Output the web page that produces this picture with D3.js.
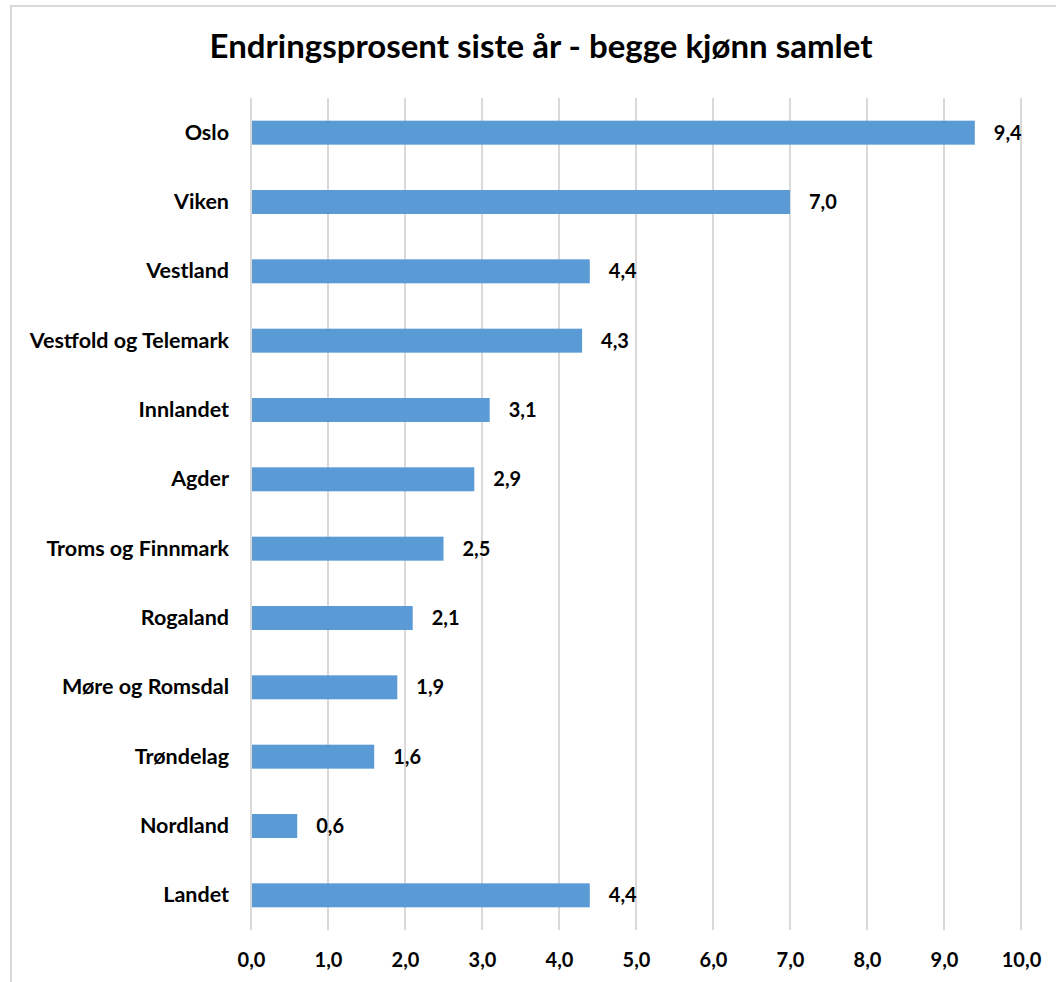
<!DOCTYPE html>
<html>
<head>
<meta charset="utf-8">
<script src="https://cdnjs.cloudflare.com/ajax/libs/d3/7.8.5/d3.min.js"></script>
<style>
  body { margin: 0; background: #fff; }
  text { font-family: Lato, "Open Sans", sans-serif; font-weight: bold; fill: #000; }
</style>
</head>
<body>
<svg></svg>
<script>
const categories = ['Oslo', 'Viken', 'Vestland', 'Vestfold og Telemark', 'Innlandet', 'Agder',
  'Troms og Finnmark', 'Rogaland', 'Møre og Romsdal', 'Trøndelag', 'Nordland', 'Landet'];
const values = [9.4, 7.0, 4.4, 4.3, 3.1, 2.9, 2.5, 2.1, 1.9, 1.6, 0.6, 4.4];
const xTicks = [0, 1, 2, 3, 4, 5, 6, 7, 8, 9, 10];
const title = 'Endringsprosent siste år - begge kjønn samlet';

const width = 1056;
const height = 982;
const margin = { top: 98, right: 35, bottom: 52, left: 251 };

const fmt = v => v.toFixed(1).replace('.', ',');

const svg = d3.select('svg')
  .attr('width', width)
  .attr('height', height);

// chart frame
svg.append('rect')
  .attr('x', 11)
  .attr('y', 6)
  .attr('width', width)
  .attr('height', height)
  .attr('fill', '#fff')
  .attr('stroke', '#d9d9d9')
  .attr('stroke-width', 2);

svg.append('text')
  .attr('x', 541)
  .attr('y', 58)
  .attr('text-anchor', 'middle')
  .style('font-size', '33px')
  .text(title);

const xScale = d3.scaleLinear()
  .domain([0, 10])
  .range([margin.left, width - margin.right]);

const yScale = d3.scaleBand()
  .domain(categories)
  .range([margin.top, height - margin.bottom])
  .paddingInner(0.654)
  .paddingOuter(0.327);

// gridlines
svg.append('g')
  .selectAll('line')
  .data(xTicks)
  .enter().append('line')
  .attr('x1', d => xScale(d))
  .attr('x2', d => xScale(d))
  .attr('y1', margin.top)
  .attr('y2', height - margin.bottom)
  .attr('stroke', '#d9d9d9')
  .attr('stroke-width', 2);

const xAxis = d3.axisBottom(xScale)
  .tickValues(xTicks)
  .tickFormat(fmt)
  .tickSize(0)
  .tickPadding(23);

svg.append('g')
  .attr('transform', `translate(0,${height - margin.bottom})`)
  .call(xAxis)
  .call(g => g.select('.domain').remove())
  .selectAll('text')
  .style('font-size', '20px')
  .style('font-family', 'Lato, sans-serif');

const yAxis = d3.axisLeft(yScale)
  .tickSize(0)
  .tickPadding(22);

svg.append('g')
  .attr('transform', `translate(${margin.left},0)`)
  .call(yAxis)
  .call(g => g.select('.domain').remove())
  .selectAll('text')
  .style('font-size', '21.5px')
  .style('font-family', 'Lato, sans-serif');

svg.selectAll('.bar')
  .data(categories)
  .enter().append('rect')
  .attr('class', 'bar')
  .attr('x', xScale(0) + 1)
  .attr('y', d => yScale(d))
  .attr('width', (d, i) => xScale(values[i]) - xScale(0) - 1)
  .attr('height', yScale.bandwidth())
  .attr('fill', '#5b9bd5');

svg.selectAll('.label')
  .data(categories)
  .enter().append('text')
  .attr('class', 'label')
  .attr('x', (d, i) => xScale(values[i]) + 19)
  .attr('y', d => yScale(d) + yScale.bandwidth() / 2)
  .attr('dy', '0.35em')
  .style('font-size', '20px')
  .text((d, i) => fmt(values[i]));
</script>
</body>
</html>
